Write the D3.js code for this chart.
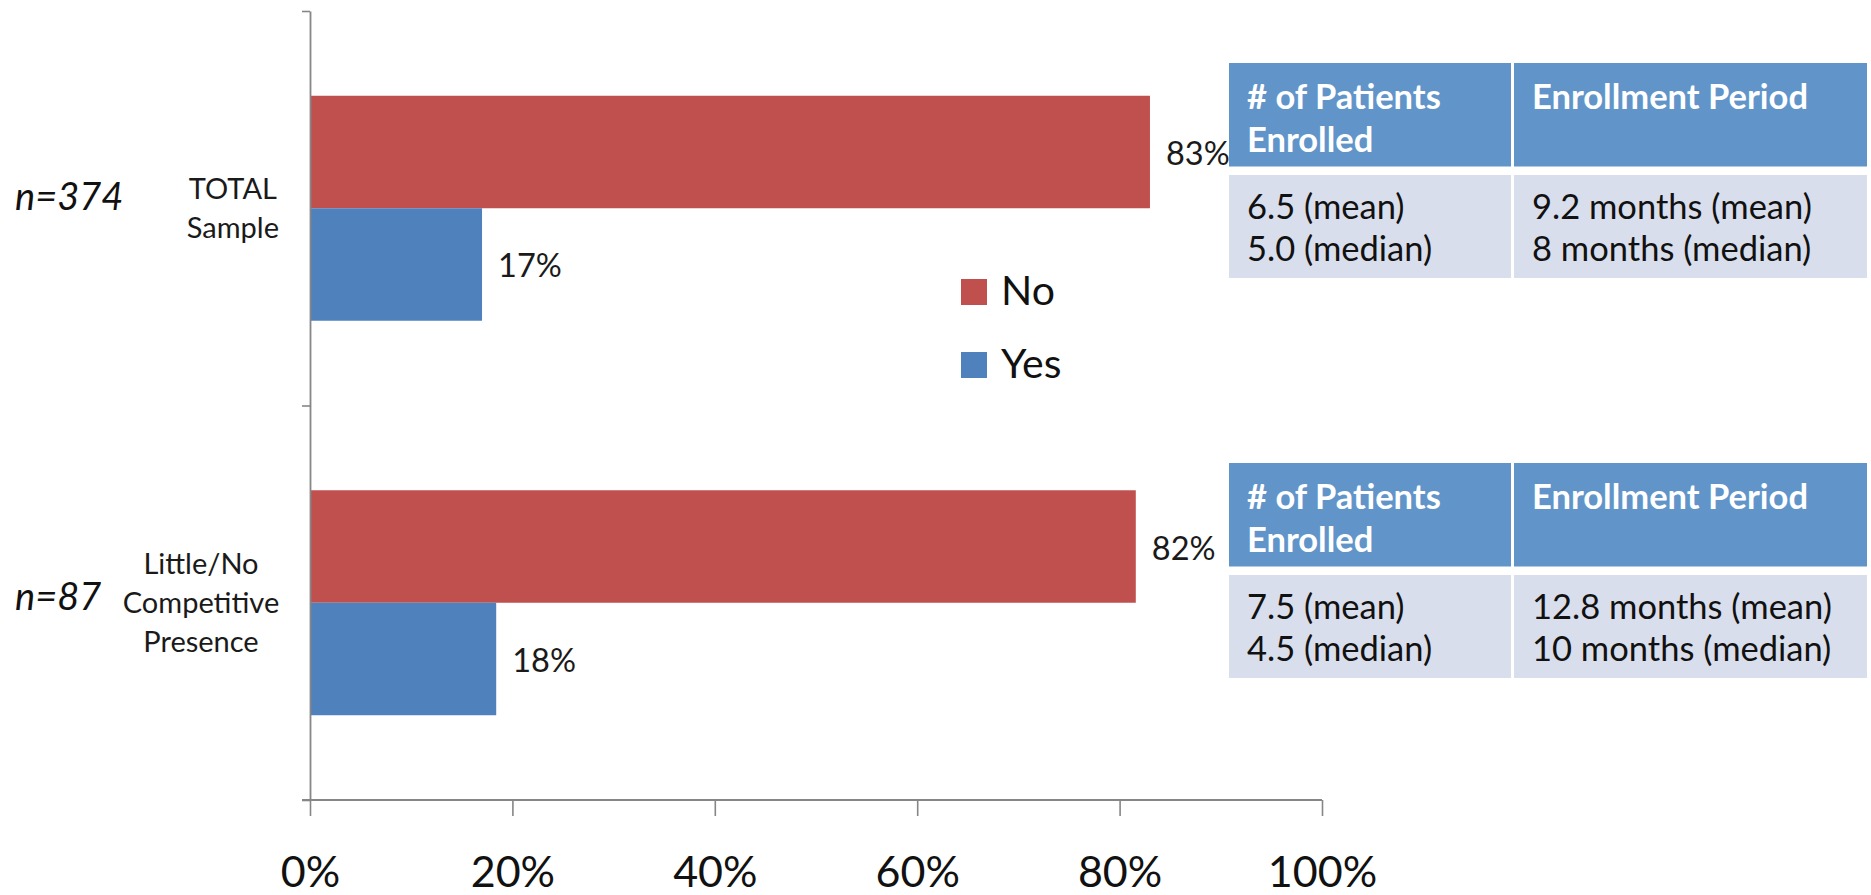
<!DOCTYPE html>
<html>
<head>
<meta charset="utf-8">
<script src="https://cdn.jsdelivr.net/npm/d3@7"></script>
<style>
  html, body { margin: 0; padding: 0; background: #ffffff; }
  svg { display: block; font-family: Lato, "Open Sans", sans-serif; }
</style>
</head>
<body>
<svg id="chart" width="1871" height="895"></svg>
<script>
// ---- data ----
const categories = ["TOTAL\nSample", "Little/No\nCompetitive\nPresence"];
const sampleSizes = ["n=374", "n=87"];
const seriesNames = ["No", "Yes"];
const noValues = [0.83, 0.816];
const yesValues = [0.17, 0.184];
const xTicks = [0, 0.2, 0.4, 0.6, 0.8, 1.0];
const seriesColors = ["#C0504D", "#4F81BD"];
const tableHeaders = ["# of Patients\nEnrolled", "Enrollment Period"];
const tablePatients = ["6.5 (mean)\n5.0 (median)", "7.5 (mean)\n4.5 (median)"];
const tablePeriod = ["9.2 months (mean)\n8 months (median)", "12.8 months (mean)\n10 months (median)"];

// ---- layout ----
const svg = d3.select("#chart");
const axisX0 = 310, axisX1 = 1322, axisTop = 11, axisBottom = 800;
const axisColor = "#868686";

const x = d3.scaleLinear().domain([0, 1]).range([axisX0, axisX1]);
const y = d3.scaleBand().domain(categories).range([axisTop, axisBottom])
  .paddingInner(0.4297).paddingOuter(0.4297 / 2);
const ySeries = d3.scaleBand().domain(seriesNames).range([0, y.bandwidth()]);
const yTicks = d3.scaleLinear().domain([0, categories.length]).range([axisBottom, axisTop]);
const color = d3.scaleOrdinal().domain(seriesNames).range(seriesColors);

const rows = categories.map((c, i) => ({
  cat: c,
  values: [{ s: "No", v: noValues[i] }, { s: "Yes", v: yesValues[i] }]
}));

// bars
const gBars = svg.append("g");
rows.forEach(r => {
  r.values.forEach(d => {
    gBars.append("rect")
      .attr("x", x(0))
      .attr("y", y(r.cat) + ySeries(d.s))
      .attr("width", x(d.v) - x(0))
      .attr("height", ySeries.bandwidth())
      .attr("fill", color(d.s));
    gBars.append("text")
      .attr("x", x(d.v) + 16)
      .attr("y", y(r.cat) + ySeries(d.s) + ySeries.bandwidth() / 2 + 13)
      .attr("font-size", 32.5)
      .attr("fill", "#1a1a1a")
      .text(d3.format(".0%")(d.v));
  });
});

// x axis
const xAxis = d3.axisBottom(x).tickValues(xTicks).tickFormat(d3.format(".0%"))
  .tickSizeInner(16).tickSizeOuter(0).tickPadding(40);
const gx = svg.append("g").attr("transform", `translate(0,${axisBottom})`).call(xAxis);
gx.select(".domain").remove();
gx.selectAll(".tick line").attr("stroke", axisColor).attr("stroke-width", 1.6);
gx.selectAll(".tick text").attr("font-size", 43).attr("fill", "#111").attr("font-family", "Lato, sans-serif");
svg.append("line").attr("x1", axisX0 - 8).attr("x2", axisX1).attr("y1", axisBottom).attr("y2", axisBottom)
  .attr("stroke", axisColor).attr("stroke-width", 1.8);

// y axis (band boundary ticks)
const yAxis = d3.axisLeft(yTicks).ticks(categories.length).tickFormat("").tickSizeInner(8).tickSizeOuter(0);
const gy = svg.append("g").attr("transform", `translate(${axisX0},0)`).call(yAxis);
gy.select(".domain").attr("stroke", axisColor).attr("stroke-width", 1.8);
gy.selectAll(".tick line").attr("stroke", axisColor).attr("stroke-width", 1.6);

// category labels
const labelRight = 279, lineH = 39;
categories.forEach(c => {
  const lines = c.split("\n");
  const cy = y(c) + y.bandwidth() / 2;
  const t = svg.append("text").attr("font-size", 29).attr("fill", "#1a1a1a").attr("text-anchor", "middle");
  const spans = lines.map((l, i) => t.append("tspan").text(l));
  const maxW = d3.max(spans, s => s.node().getComputedTextLength());
  const cx = labelRight - maxW / 2;
  const firstBase = cy - (lines.length - 1) * lineH / 2 + 10;
  spans.forEach((s, i) => s.attr("x", cx).attr("y", firstBase + i * lineH));
});

// sample sizes
sampleSizes.forEach((n, i) => {
  svg.append("text")
    .attr("x", 15)
    .attr("y", y(categories[i]) + y.bandwidth() / 2 + (i === 0 ? 2 : 7))
    .attr("font-size", 38).attr("font-style", "italic").attr("fill", "#111")
    .text(n);
});

// legend
const legendTops = [279, 352];
seriesNames.forEach((s, i) => {
  svg.append("rect").attr("x", 961).attr("y", legendTops[i]).attr("width", 26).attr("height", 26)
    .attr("fill", color(s));
  svg.append("text").attr("x", 1001).attr("y", legendTops[i] + 26)
    .attr("font-size", 41).attr("fill", "#111").text(s);
});

// tables
const tableTops = [63, 463];
const colX = [1229, 1514], colW = [282, 353];
const headH = 103.5, bodyTop = 112, bodyH = 103;
tableTops.forEach((top, ti) => {
  const g = svg.append("g");
  const bodyTexts = [tablePatients[ti], tablePeriod[ti]];
  [0, 1].forEach(ci => {
    g.append("rect").attr("x", colX[ci]).attr("y", top).attr("width", colW[ci]).attr("height", headH)
      .attr("fill", "#6195C9");
    g.append("rect").attr("x", colX[ci]).attr("y", top + bodyTop).attr("width", colW[ci]).attr("height", bodyH)
      .attr("fill", "#D9DEEC");
    tableHeaders[ci].split("\n").forEach((l, li) => {
      g.append("text").attr("x", colX[ci] + 18).attr("y", top + 46 + li * 42.7)
        .attr("font-size", 34.5).attr("font-weight", "bold").attr("fill", "#ffffff").text(l);
    });
    bodyTexts[ci].split("\n").forEach((l, li) => {
      g.append("text").attr("x", colX[ci] + 18).attr("y", top + bodyTop + 44 + li * 41.7)
        .attr("font-size", 34.5).attr("fill", "#111").text(l);
    });
  });
});
</script>
</body>
</html>
